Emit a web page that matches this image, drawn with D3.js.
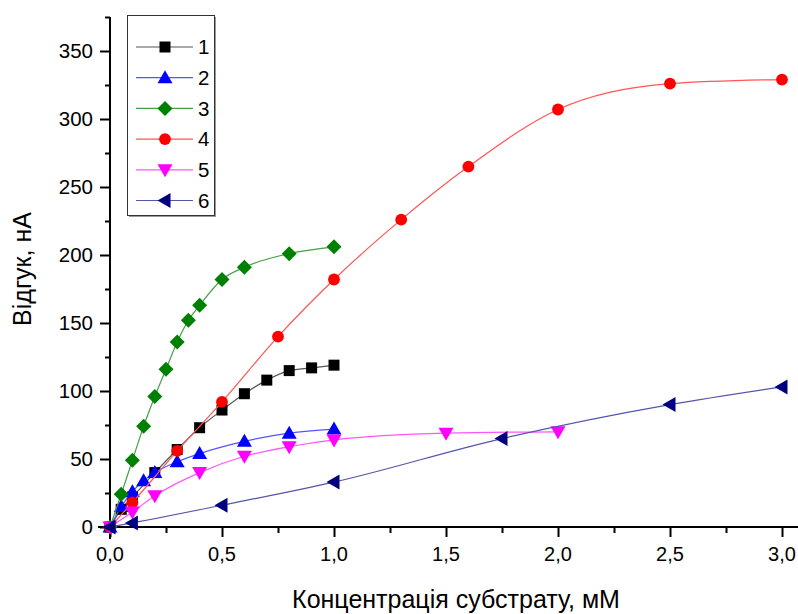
<!DOCTYPE html>
<html lang="uk">
<head>
<meta charset="utf-8">
<title>Відгук від концентрації субстрату</title>
<script src="https://cdn.jsdelivr.net/npm/d3@7"></script>
<style>
  body { margin: 0; background: #fff; }
  text { font-family: Arial, "Liberation Sans", sans-serif; fill: #000; }
</style>
</head>
<body>
<div id="vis"></div>
<script>
// concentrations (mM) and responses (nA)
var x1 = [0, 0.05, 0.1, 0.2, 0.3, 0.4, 0.5, 0.6, 0.7, 0.8, 0.9, 1.0];
var y1 = [0, 13, 22, 40, 57, 73, 86, 98, 108, 115, 117, 119];

var x2 = [0, 0.05, 0.1, 0.15, 0.2, 0.3, 0.4, 0.6, 0.8, 1.0];
var y2 = [0, 15, 26, 34, 40, 48, 54, 63, 69, 72];

var x3 = [0, 0.05, 0.1, 0.15, 0.2, 0.25, 0.3, 0.35, 0.4, 0.5, 0.6, 0.8, 1.0];
var y3 = [0, 24, 49, 74, 96, 116, 136, 152, 163, 182, 191, 201, 206];

var x4 = [0, 0.1, 0.3, 0.5, 0.75, 1.0, 1.3, 1.6, 2.0, 2.5, 3.0];
var y4 = [0, 18, 56, 92, 140, 182, 226, 265, 307, 326, 329];

var x5 = [0, 0.1, 0.2, 0.4, 0.6, 0.8, 1.0, 1.5, 2.0];
var y5 = [0, 11, 23, 40, 52, 59, 64, 69, 70];

var x6 = [0, 0.1, 0.5, 1.0, 1.75, 2.5, 3.0];
var y6 = [0, 3, 16, 33, 65, 90, 103];

var seriesNames = ["1", "2", "3", "4", "5", "6"];
var xTicks = [0, 0.5, 1.0, 1.5, 2.0, 2.5, 3.0];
var yTicks = [0, 50, 100, 150, 200, 250, 300, 350];

var xTitle = "Концентрація субстрату, мМ";
var yTitle = "Відгук, нА";

var W = 798, H = 614;
var plotL = 110, plotB = 527, plotT = 17, plotR = 798;

var svg = d3.select("#vis").append("svg").attr("width", W).attr("height", H);

var x = d3.scaleLinear().domain([0, (plotR - plotL) / 224]).range([plotL, plotR]);
var y = d3.scaleLinear().domain([0, 375]).range([plotB, plotT]);

var fmt = function(d) { return d3.format(".1f")(d).replace(".", ","); };

// axes
var xAxis = svg.append("g").attr("transform", "translate(0," + plotB + ")");
xAxis.call(d3.axisBottom(x).tickValues(d3.range(0, 3.01, 0.25)).tickSize(6).tickFormat(""));
xAxis.selectAll(".tick").filter(function(d) { return Math.abs(d * 2 - Math.round(d * 2)) < 1e-6; })
  .select("line").attr("y2", 10);
xAxis.selectAll("line").attr("stroke", "#000").attr("stroke-width", 2);
xAxis.select(".domain").remove();
xAxis.append("line").attr("x1", plotL - 12).attr("x2", plotR).attr("stroke", "#000").attr("stroke-width", 2);
xAxis.selectAll(".lab").data(xTicks).enter().append("text")
  .attr("x", function(d) { return x(d); }).attr("y", 34)
  .attr("text-anchor", "middle").style("font-size", "20px")
  .text(fmt);

var yAxis = svg.append("g").attr("transform", "translate(" + plotL + ",0)");
yAxis.call(d3.axisLeft(y).tickValues(d3.range(0, 376, 25)).tickSize(5).tickFormat(""));
yAxis.selectAll(".tick").filter(function(d) { return d % 50 === 0; })
  .select("line").attr("x2", -10);
yAxis.selectAll("line").attr("stroke", "#000").attr("stroke-width", 2);
yAxis.select(".domain").remove();
yAxis.append("line").attr("y1", plotT).attr("y2", plotB + 12).attr("stroke", "#000").attr("stroke-width", 2);
yAxis.selectAll(".lab").data(yTicks).enter().append("text")
  .attr("x", -17).attr("y", function(d) { return y(d); }).attr("dy", "0.36em")
  .attr("text-anchor", "end").style("font-size", "20.5px")
  .text(function(d) { return d; });

svg.append("text").attr("x", 456).attr("y", 608).attr("text-anchor", "middle")
  .style("font-size", "25px").text(xTitle);
svg.append("text").attr("transform", "translate(31,269) rotate(-90)").attr("text-anchor", "middle")
  .style("font-size", "25px").text(yTitle);

// series
var series = [
  { xs: x1, ys: y1, color: "#000000", line: "#555555", marker: "square" },
  { xs: x2, ys: y2, color: "#0000ff", line: "#5555ff", marker: "up" },
  { xs: x3, ys: y3, color: "#008000", line: "#44a044", marker: "diamond" },
  { xs: x4, ys: y4, color: "#ff0000", line: "#ff5555", marker: "circle" },
  { xs: x5, ys: y5, color: "#ff00ff", line: "#ff55ff", marker: "down" },
  { xs: x6, ys: y6, color: "#000080", line: "#5555aa", marker: "left" }
];

var markerPath = function(type) {
  switch (type) {
    case "square": return "M-5.5,-5.5H5.5V5.5H-5.5Z";
    case "up": return "M0,-7.5L7.5,5.5H-7.5Z";
    case "down": return "M0,7.5L7.5,-5.5H-7.5Z";
    case "left": return "M-7.5,0L5.5,-7.5V7.5Z";
    case "diamond": return "M0,-7.5L7.5,0L0,7.5L-7.5,0Z";
    case "circle": return d3.symbol(d3.symbolCircle, 110)();
  }
};

var line = d3.line().curve(d3.curveMonotoneX)
  .x(function(d) { return x(d[0]); }).y(function(d) { return y(d[1]); });

series.forEach(function(s) {
  var pts = s.xs.map(function(v, i) { return [v, s.ys[i]]; });
  var g = svg.append("g");
  g.append("path").attr("d", line(pts)).attr("fill", "none")
    .attr("stroke", s.line).attr("stroke-width", 1.2);
  g.selectAll("path.m").data(pts).enter().append("path").attr("class", "m")
    .attr("transform", function(d) { return "translate(" + x(d[0]) + "," + y(d[1]) + ")"; })
    .attr("d", markerPath(s.marker)).attr("fill", s.color);
});

// legend
var leg = svg.append("g");
leg.append("rect").attr("x", 129).attr("y", 17).attr("width", 87).attr("height", 200).attr("fill", "#999");
leg.append("rect").attr("x", 127.5).attr("y", 15.5).attr("width", 87).attr("height", 200)
  .attr("fill", "#fff").attr("stroke", "#333").attr("stroke-width", 1);
series.forEach(function(s, i) {
  var ly = 47 + i * 30.7;
  leg.append("line").attr("x1", 136).attr("x2", 193).attr("y1", ly).attr("y2", ly)
    .attr("stroke", s.line).attr("stroke-width", 1.2);
  leg.append("path").attr("transform", "translate(165," + ly + ")")
    .attr("d", markerPath(s.marker)).attr("fill", s.color);
  leg.append("text").attr("x", 198).attr("y", ly).attr("dy", "0.36em")
    .style("font-size", "20.5px").text(seriesNames[i]);
});
</script>
</body>
</html>
